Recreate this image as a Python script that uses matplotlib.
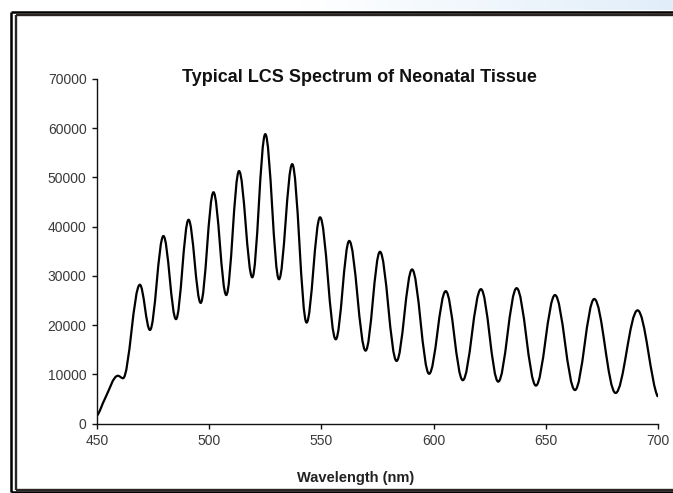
import numpy as np
import matplotlib
matplotlib.use("Agg")
import matplotlib.pyplot as plt
from matplotlib.path import Path
from matplotlib.patches import PathPatch
from matplotlib.lines import Line2D
from matplotlib.colors import LinearSegmentedColormap

# ---- data (turning points of the spectrum) ----
wavelength_nm = [450, 453.5, 459.3, 461.6, 469.1, 473.6, 479.6, 485.2, 490.8, 496.2,
                 501.9, 507.6, 513.3, 519.2, 525.0, 531.1, 537.0, 543.4, 549.4, 556.4,
                 562.4, 569.7, 576.1, 583.5, 590.4, 598.0, 605.4, 613.0, 621.1, 628.8,
                 637.0, 645.6, 654.1, 663.0, 671.6, 681.1, 690.9, 700]
intensity = [1600, 5000, 9700, 9200, 28200, 19000, 38100, 21200, 41400, 24500,
             47000, 26100, 51300, 29700, 58800, 29300, 52700, 20500, 41900, 17100,
             37100, 14800, 34900, 12700, 31300, 10100, 26900, 8800, 27300, 8500,
             27500, 7700, 26100, 6800, 25300, 6200, 23000, 5400]
x_ticks = [450, 500, 550, 600, 650, 700]
y_ticks = [0, 10000, 20000, 30000, 40000, 50000, 60000, 70000]
title = "Typical LCS Spectrum of Neonatal Tissue"
x_label = "Wavelength (nm)"

W, H = 673, 493
fig = plt.figure(figsize=(W / 100, H / 100), dpi=100)
fig.patch.set_facecolor("white")

def fx(px):
    return px / W

def fy(py):
    return 1 - py / H

# top strip gradient (page background)
bg = fig.add_axes([0, fy(10.5), 1, 10.5 / H], zorder=0)
cmap = LinearSegmentedColormap.from_list("g", [(0, "#ffffff"), (0.45, "#ffffff"), (1, "#e1eefa")])
bg.imshow(np.linspace(0, 1, 256)[None, :], aspect="auto", cmap=cmap, extent=[0, 1, 0, 1])
bg.set_axis_off()

# double frame
def frame(x0, y0, x1, y1, lw, color):
    for xs, ys in [([x0, x1], [y0, y0]), ([x0, x0], [y0, y1]), ([x0, x1], [y1, y1])]:
        fig.add_artist(Line2D([fx(v) for v in xs], [fy(v) for v in ys], lw=lw,
                              color=color, transform=fig.transFigure, zorder=5,
                              solid_capstyle="butt"))

frame(11.2, 11.7, 700, 491.5, 1.8, "black")
frame(15.8, 15.3, 700, 489.5, 1.7, "#2a2522")

ax = fig.add_axes([fx(97), fy(423.5), fx(658) - fx(97), fy(79) - fy(423.5)], zorder=2)
ax.set_xlim(450, 700)
ax.set_ylim(0, 70000)
ax.patch.set_alpha(0)

# smooth curve through the read turning points (drawn as Bezier segments)
xs = np.array(wavelength_nm, float)
ys = np.array(intensity, float)
n = len(xs)
m = np.zeros(n)
for i in range(1, n - 1):
    s0 = (ys[i] - ys[i - 1]) / (xs[i] - xs[i - 1])
    s1 = (ys[i + 1] - ys[i]) / (xs[i + 1] - xs[i])
    m[i] = 0.0 if s0 * s1 <= 0 else 2 * s0 * s1 / (s0 + s1)
m[0] = 0.5 * (ys[1] - ys[0]) / (xs[1] - xs[0])
m[-1] = 0.35 * (ys[-1] - ys[-2]) / (xs[-1] - xs[-2])
verts = [(xs[0], ys[0])]
codes = [Path.MOVETO]
for i in range(n - 1):
    h = xs[i + 1] - xs[i]
    a0 = 0.36 if m[i] == 0 else 1 / 3
    a1 = 0.36 if m[i + 1] == 0 else 1 / 3
    verts += [(xs[i] + a0 * h, ys[i] + m[i] * a0 * h),
              (xs[i + 1] - a1 * h, ys[i + 1] - m[i + 1] * a1 * h),
              (xs[i + 1], ys[i + 1])]
    codes += [Path.CURVE4] * 3
ax.add_patch(PathPatch(Path(verts, codes), fill=False, lw=1.6, edgecolor="black",
                       capstyle="butt", joinstyle="round"))

for s in ["top", "right"]:
    ax.spines[s].set_visible(False)
for s in ["left", "bottom"]:
    ax.spines[s].set_linewidth(1.0)
    ax.spines[s].set_color("#111111")

ax.set_xticks(x_ticks)
ax.set_yticks(y_ticks)
ax.set_xticklabels([str(v) for v in x_ticks])
ax.set_yticklabels([str(v) for v in y_ticks])
ax.tick_params(direction="out", length=3.5, width=1.0, color="#111111",
               labelsize=10, labelcolor="#3a3a3a", pad=4)
for lab in ax.get_xticklabels() + ax.get_yticklabels():
    lab.set_family("Liberation Sans")

fig.text(fx(359), fy(78), title, ha="center", va="center", fontsize=13,
         fontweight="bold", family="Liberation Sans", color="#111111")
fig.text(fx(356), fy(478), x_label, ha="center", va="center", fontsize=10.5,
         fontweight="bold", family="Liberation Sans", color="#222222")

fig.savefig("out.png", dpi=100, facecolor="white")
